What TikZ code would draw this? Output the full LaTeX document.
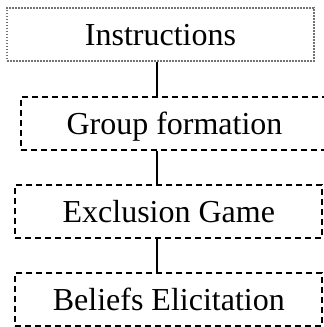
\documentclass[tikz,border=0pt]{standalone}
\usepackage{fontspec}
\setmainfont{Liberation Serif}
\begin{document}
\begin{tikzpicture}[x=1pt,y=-1pt,
  stagebox/.style={draw, line width=2pt, dash pattern=on 6pt off 4pt,
    minimum width=307pt, minimum height=53pt, inner sep=0pt,
    text height=22pt, text depth=0pt, font=\fontsize{32}{36}\selectfont},
  firstbox/.style={stagebox, draw=black!55, line width=1.8pt, dash pattern=on 1.6pt off 1.4pt},
  link/.style={line width=2.2pt}]
\useasboundingbox (0,0) rectangle (324,327);
\node[firstbox] (instr) at (160.5,34.3) {Instructions};
\node[stagebox] (group) at (174.5,123.5) {Group formation};
\node[stagebox] (excl) at (168.8,211.5) {Exclusion Game};
\node[stagebox] (beli) at (168.8,299) {Beliefs Elicitation};
\coordinate (spine) at (157,0);
\draw[link] (instr.south -| spine) -- (group.north -| spine);
\draw[link] (group.south -| spine) -- (excl.north -| spine);
\draw[link] (excl.south -| spine) -- (beli.north -| spine);
\end{tikzpicture}
\end{document}
